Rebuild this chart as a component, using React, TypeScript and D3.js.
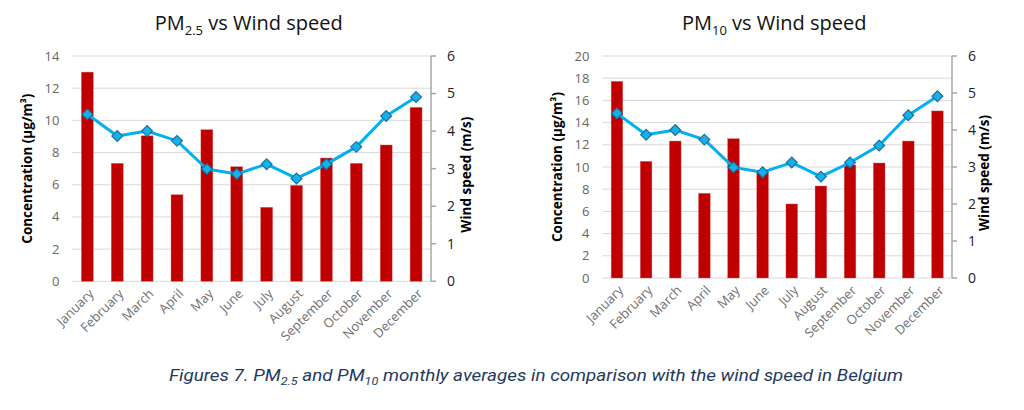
import React from "react";
import * as d3 from "d3";

const months = ["January", "February", "March", "April", "May", "June", "July", "August", "September", "October", "November", "December"];
const pm25 = [13.0, 7.33, 9.04, 5.38, 9.42, 7.12, 4.6, 5.96, 7.66, 7.33, 8.47, 10.81];
const pm10 = [17.72, 10.51, 12.34, 7.63, 12.55, 9.55, 6.67, 8.29, 10.18, 10.36, 12.34, 15.05];
const wind = [4.45, 3.87, 4.0, 3.74, 2.99, 2.86, 3.12, 2.74, 3.12, 3.58, 4.4, 4.91];
const pm25Ticks = [0, 2, 4, 6, 8, 10, 12, 14];
const pm10Ticks = [0, 2, 4, 6, 8, 10, 12, 14, 16, 18, 20];
const windTicks = [0, 1, 2, 3, 4, 5, 6];

const FONT = "'Open Sans', Roboto, sans-serif";

type ChartProps = {
  left: number;
  right: number;
  top: number;
  bottom: number;
  values: number[];
  ticks: number[];
  sub: string;
  rightTitleGap: number;
};

function Chart({ left, right, top, bottom, values, ticks, sub, rightTitleGap }: ChartProps) {
  const x = d3.scaleBand<string>().domain(months).range([left, right]).paddingInner(0.6).paddingOuter(0.3);
  const yMax = ticks[ticks.length - 1];
  const y = d3.scaleLinear().domain([0, yMax]).range([bottom, top]);
  const yW = d3.scaleLinear().domain([0, 6]).range([bottom, top]);
  const cx = (m: string) => (x(m) as number) + x.bandwidth() / 2;
  const line = d3
    .line<number>()
    .x((_, i) => cx(months[i]))
    .y((d) => yW(d));
  const diamond = d3.symbol().type(d3.symbolSquare).size(58)() as string;
  const midX = (left + right) / 2;
  const midY = (top + bottom) / 2;
  return (
    <g>
      <text x={midX - 3} y={30} textAnchor="middle" fontFamily={FONT} fontSize={20} fill="#111">
        PM<tspan fontSize={13} dy={5}>{sub}</tspan>
        <tspan dy={-5}> vs Wind speed</tspan>
      </text>
      {ticks.map((t) => (
        <g key={t}>
          <line x1={left} x2={right} y1={y(t)} y2={y(t)} stroke="#D9D9D9" strokeWidth={1} />
          <text x={left - 13} y={y(t)} dy="0.35em" textAnchor="end" fontFamily={FONT} fontSize={13} fill="#666">
            {t}
          </text>
        </g>
      ))}
      {values.map((v, i) => (
        <rect
          key={months[i]}
          x={x(months[i])}
          y={y(v)}
          width={x.bandwidth()}
          height={y(0) - y(v)}
          fill="#C00000"
          stroke="#E06666"
          strokeWidth={0.4}
        />
      ))}
      <line x1={right} x2={right} y1={top} y2={bottom} stroke="#A6A6A6" strokeWidth={1.5} />
      {windTicks.map((t) => (
        <g key={t}>
          <line x1={right} x2={right + 5} y1={yW(t)} y2={yW(t)} stroke="#A6A6A6" strokeWidth={1.5} />
          <text x={right + 16} y={yW(t)} dy="0.35em" textAnchor="start" fontFamily={FONT} fontSize={14} fill="#222">
            {t}
          </text>
        </g>
      ))}
      <path d={line(wind) as string} fill="none" stroke="#00B0F0" strokeWidth={3} strokeLinejoin="round" />
      {wind.map((w, i) => (
        <path
          key={months[i]}
          d={diamond}
          transform={`translate(${cx(months[i])},${yW(w)}) rotate(45)`}
          fill="#12B2EE"
          stroke="#1F6E99"
          strokeWidth={1.2}
        />
      ))}
      {months.map((m) => (
        <text
          key={m}
          transform={`translate(${cx(m) + 4},${bottom + 10}) rotate(-45)`}
          textAnchor="end"
          dy="0.35em"
          fontFamily={FONT}
          fontSize={13}
          fill="#6F6F6F"
        >
          {m}
        </text>
      ))}
      <text
        transform={`translate(${left - 40},${midY}) rotate(-90)`}
        textAnchor="middle"
        fontFamily={FONT}
        fontSize={13.5}
        fontWeight="bold"
        fill="#000"
      >
        Concentration (μg/m³)
      </text>
      <text
        transform={`translate(${right + rightTitleGap},${midY + 6}) rotate(-90)`}
        textAnchor="middle"
        fontFamily={FONT}
        fontSize={13.5}
        fontWeight="bold"
        fill="#000"
      >
        Wind speed (m/s)
      </text>
    </g>
  );
}

export default function App() {
  return (
    <svg width={1024} height={410} style={{ position: "absolute", left: 0, top: 0, background: "#fff" }}>
      <Chart left={72.4} right={431} top={56} bottom={281.3} values={pm25} ticks={pm25Ticks} sub="2.5" rightTitleGap={40} />
      <Chart left={602.4} right={952} top={56} bottom={278} values={pm10} ticks={pm10Ticks} sub="10" rightTitleGap={37} />
      <text x={536} y={381} textAnchor="middle" fontFamily="Roboto, sans-serif" fontStyle="italic" fontSize={16.5} fill="#1F3A5F" textLength={734} lengthAdjust="spacingAndGlyphs">
        Figures 7. PM<tspan fontSize={11} dy={4}>2.5</tspan>
        <tspan dy={-4}> and PM</tspan>
        <tspan fontSize={11} dy={4}>10</tspan>
        <tspan dy={-4}> monthly averages in comparison with the wind speed in Belgium</tspan>
      </text>
    </svg>
  );
}
